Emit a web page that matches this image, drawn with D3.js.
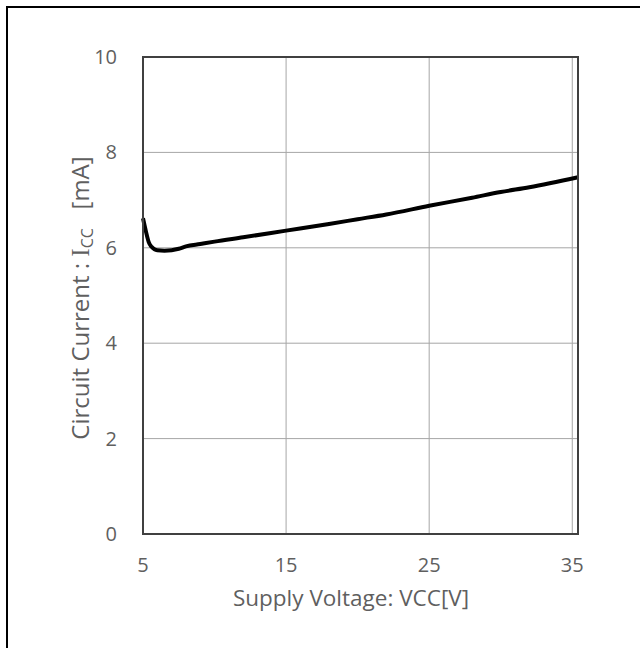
<!DOCTYPE html>
<html><head><meta charset="utf-8">
<script src="https://cdn.jsdelivr.net/npm/d3@7"></script>
<style>body{margin:0;background:#fff}svg{display:block}</style>
</head><body>
<script>
const voltage = [5.0, 5.2, 5.4, 5.6, 5.8, 6.0, 6.5, 7.0, 7.5, 8.0, 9.0, 10, 12, 15, 18, 20, 22, 25, 28, 30, 32, 35.4];
const current = [6.62, 6.35, 6.12, 6.02, 5.97, 5.95, 5.94, 5.95, 5.98, 6.03, 6.08, 6.13, 6.22, 6.36, 6.5, 6.6, 6.7, 6.88, 7.05, 7.17, 7.27, 7.48];
const xTicks = [5, 15, 25, 35];
const yTicks = [0, 2, 4, 6, 8, 10];

const W = 640, H = 648;
const svg = d3.select("body").append("svg").attr("width", W).attr("height", H);
svg.append("rect").attr("x", 7).attr("y", 7).attr("width", 700).attr("height", 700)
  .attr("fill", "none").attr("stroke", "#000").attr("stroke-width", 2);

const m = {l: 143, t: 57, r: 578, b: 534};
const x = d3.scaleLinear().domain([5, 35.4]).range([m.l, m.r]);
const y = d3.scaleLinear().domain([0, 10]).range([m.b, m.t]);
const font = "'Open Sans', 'DejaVu Sans', sans-serif";
const grey = "#5f5f5f";

// grid
svg.append("g").selectAll("line").data(xTicks).join("line")
  .attr("x1", d => x(d)).attr("x2", d => x(d)).attr("y1", m.t).attr("y2", m.b)
  .attr("stroke", "#a6a6a6").attr("stroke-width", 1);
svg.append("g").selectAll("line").data(yTicks).join("line")
  .attr("x1", m.l).attr("x2", m.r).attr("y1", d => y(d)).attr("y2", d => y(d))
  .attr("stroke", "#a6a6a6").attr("stroke-width", 1);

// curve
svg.append("path").datum(voltage.map((v, i) => [v, current[i]]))
  .attr("d", d3.line().x(d => x(d[0])).y(d => y(d[1])).curve(d3.curveMonotoneX))
  .attr("fill", "none").attr("stroke", "#000").attr("stroke-width", 4).attr("stroke-linejoin", "round");

// frame
svg.append("rect").attr("x", m.l).attr("y", m.t).attr("width", m.r - m.l).attr("height", m.b - m.t)
  .attr("fill", "none").attr("stroke", "#404040").attr("stroke-width", 2);

// tick labels
svg.append("g").selectAll("text").data(xTicks).join("text")
  .attr("x", d => x(d)).attr("y", 572).attr("text-anchor", "middle")
  .attr("font-family", font).attr("font-size", 20).attr("fill", grey).text(d => d);
svg.append("g").selectAll("text").data(yTicks).join("text")
  .attr("x", 117).attr("y", d => y(d) + 7).attr("text-anchor", "end")
  .attr("font-family", font).attr("font-size", 20).attr("fill", grey).text(d => d);

// axis titles
svg.append("text").attr("x", 351).attr("y", 606).attr("text-anchor", "middle")
  .attr("font-family", font).attr("font-size", 22.5).attr("fill", grey)
  .text("Supply Voltage: VCC[V]");

const yl = svg.append("text").attr("transform", "translate(89,298) rotate(-90)")
  .attr("text-anchor", "middle").attr("font-family", font).attr("font-size", 24).attr("fill", grey);
yl.append("tspan").text("Circuit Current : ");
yl.append("tspan").attr("font-family", "Liberation Serif, serif").attr("font-size", 25).text("I");
yl.append("tspan").attr("font-size", 16).attr("dy", 4).text("CC");
yl.append("tspan").attr("dy", -4).text("\u00a0\u00a0\u00a0[mA]");
</script>
</body></html>
